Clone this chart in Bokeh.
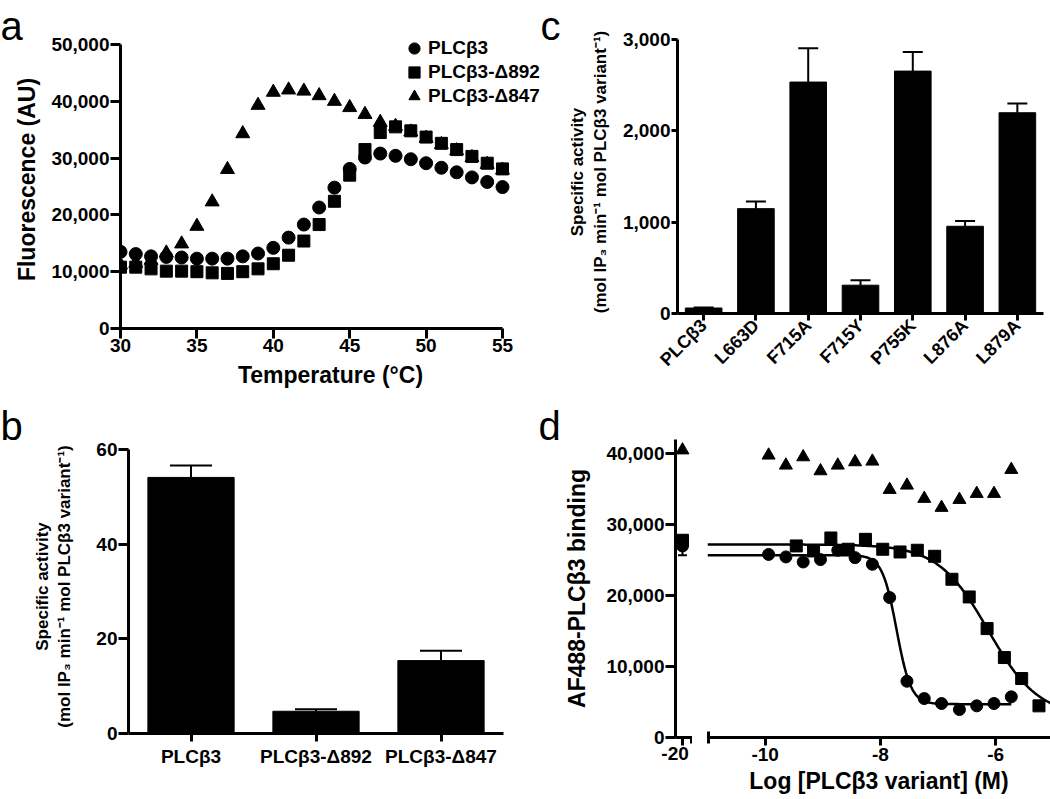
import math
from bokeh.plotting import figure
from bokeh.models import (FactorRange, Range1d, FixedTicker, NumeralTickFormatter,
                          Legend, LegendItem, Title)
from bokeh.layouts import column, row
from bokeh.embed import file_html
from bokeh.resources import INLINE

FONT = "Liberation Sans"

# ---------------- Panel a data ----------------
temp_c = list(range(30, 56))
fluor_wt = [13500, 13100, 12700, 12600, 12500, 12300, 12300, 12300, 12700, 13200,
            14200, 16000, 18300, 21300, 24800, 28100, 30100, 30800, 30400, 29800,
            29100, 28300, 27500, 26600, 25800, 24900]
fluor_d892 = [10800, 10800, 10500, 10100, 10100, 10000, 9800, 9700, 10000, 10500,
              11400, 12900, 15400, 18300, 22400, 27000, 31500, 34500, 35500, 34800,
              33700, 32600, 31500, 30300, 29100, 28100]
fluor_d847 = [11200, 11500, 12000, 13300, 14900, 18000, 22300, 28000, 34300, 39300,
              41600, 42000, 41800, 41000, 40000, 38900, 37700, 36300, 35600, 34600,
              33500, 32400, 31300, 30100, 28900, 27900]
series_names = ["PLCβ3", "PLCβ3-Δ892", "PLCβ3-Δ847"]

# ---------------- Panel b data ----------------
b_cats = ["PLCβ3", "PLCβ3-Δ892", "PLCβ3-Δ847"]
b_vals = [54.1, 4.7, 15.4]
b_err_top = [56.6, 5.1, 17.5]

# ---------------- Panel c data ----------------
c_cats = ["PLCβ3", "L663D", "F715A", "F715Y", "P755K", "L876A", "L879A"]
c_vals = [60, 1148, 2534, 310, 2654, 955, 2198]
c_err_top = [65, 1225, 2905, 365, 2862, 1013, 2300]

# ---------------- Panel d data ----------------
d_zero_x = -20
d_zero_wt = 27000
d_zero_wt_low = 25700
d_zero_wt_high = 28200
d_zero_d892 = 27800
d_zero_d847 = 40500

d_x_wt = [-9.94, -9.64, -9.34, -9.04, -8.74, -8.44, -8.14, -7.84, -7.54, -7.24,
          -6.94, -6.63, -6.33, -6.03, -5.73]
d_y_wt = [25800, 25450, 24740, 25070, 26390, 25350, 24410, 19720, 7930, 5490,
          4790, 3940, 4460, 4790, 5730]
d_x_d892 = [-9.46, -9.16, -8.86, -8.56, -8.26, -7.96, -7.66, -7.36, -7.06, -6.76,
            -6.46, -6.15, -5.85, -5.55, -5.25]
d_y_d892 = [27000, 26290, 28120, 26530, 27930, 26530, 26150, 26390, 25540, 22300,
            19810, 15350, 11270, 8310, 4460]
d_x_d847 = d_x_wt
d_y_d847 = [39770, 38360, 39530, 37560, 38360, 38830, 38920, 34930, 35540, 33670,
            32400, 33520, 34370, 34370, 37750]

# fitted dose-response parameters (top, bottom, logIC50, hill, x_start, x_end)
fit_wt = (25700, 4700, -7.72, 3.5, -11.0, -5.73)
fit_d892 = (27200, 3000, -6.13, 1.0, -11.0, -5.05)


def curve(params, n=200):
    top, bottom, lic, hill, x0, x1 = params
    xs = [x0 + (x1 - x0) * i / (n - 1) for i in range(n)]
    ys = [bottom + (top - bottom) / (1 + 10 ** ((x - lic) * hill)) for x in xs]
    return xs, ys


def style(p, tick_out=10, label_standoff=1):
    p.grid.visible = False
    p.outline_line_color = None
    p.background_fill_color = "white"
    for ax in p.axis:
        ax.axis_line_width = 3
        ax.axis_line_color = "black"
        ax.major_tick_line_width = 3
        ax.major_tick_line_color = "black"
        ax.major_tick_out = tick_out
        ax.major_tick_in = 0
        ax.minor_tick_line_color = None
        ax.major_label_text_font = FONT
        ax.major_label_text_font_style = "bold"
        ax.major_label_text_font_size = "19px"
        ax.major_label_text_color = "black"
        ax.major_label_standoff = label_standoff
        ax.axis_label_text_font = FONT
        ax.axis_label_text_font_style = "bold"
        ax.axis_label_text_font_size = "23px"
        ax.axis_label_text_color = "black"


def letter(p, text, offset, standoff):
    p.add_layout(Title(text=text, align="left", offset=offset, vertical_align="top",
                       standoff=standoff, text_font=FONT, text_font_size="40px",
                       text_font_style="normal", text_color="black"), "above")


TOP1 = 30      # common top border of row 1
TOP2 = 39      # common top border of row 2
B1 = 72        # bottom border row 1
B2 = 60        # bottom border row 2

# ================= Panel a =================
PA_W = 540
pa_y_top = 50000 + (44 - TOP1) * 50000 / 284
pa_x_end = 30 + (PA_W - 120) * 25 / 382
pa = figure(width=PA_W, height=400, x_range=Range1d(30, pa_x_end), y_range=Range1d(0, pa_y_top),
            output_backend="svg", toolbar_location=None,
            min_border_left=120, min_border_right=0, min_border_top=TOP1, min_border_bottom=B1)
r3 = pa.scatter(temp_c, fluor_d847, marker="triangle", size=14, color="black")
r2 = pa.scatter(temp_c, fluor_d892, marker="square", size=12, color="black")
r1 = pa.scatter(temp_c, fluor_wt, marker="circle", size=13, color="black")
style(pa)
pa.xaxis.bounds = (30, 55)
pa.yaxis.bounds = (0, 50000)
pa.xaxis.ticker = FixedTicker(ticks=[30, 35, 40, 45, 50, 55])
pa.yaxis.ticker = FixedTicker(ticks=[0, 10000, 20000, 30000, 40000, 50000])
pa.yaxis.formatter = NumeralTickFormatter(format="0,0")
pa.xaxis.axis_label = "Temperature (°C)"
pa.yaxis.axis_label = "Fluorescence (AU)"
pa.xaxis.major_label_standoff = 0
pa.xaxis.axis_label_standoff = 7
pa.yaxis.axis_label_standoff = 8
for name, rend, ypos in zip(series_names, [r1, r2, r3], [266, 242, 218]):
    pa.add_layout(Legend(items=[LegendItem(label=name, renderers=[rend])],
                         location=(280, ypos), border_line_color=None, background_fill_alpha=0,
                         label_text_font=FONT, label_text_font_style="bold",
                         label_text_font_size="19px", label_text_color="black",
                         glyph_width=28, glyph_height=28, label_height=20, spacing=0,
                         padding=0, margin=0, label_standoff=0), "center")
letter(pa, "a", -120, -38)

# ================= Panel c =================
PC_W = 1050 - PA_W
pc_y_top = 3000 + (39 - TOP1) * 3000 / 274
pc = figure(width=PC_W, height=385, x_range=FactorRange(*c_cats), y_range=Range1d(0, pc_y_top),
            output_backend="svg", toolbar_location=None,
            min_border_left=677 - PA_W, min_border_right=7, min_border_top=TOP1,
            min_border_bottom=B1)
pc.vbar(x=c_cats, top=c_vals, width=0.7, color="black")
pc.segment(x0=c_cats, y0=c_vals, x1=c_cats, y1=c_err_top, line_width=2, color="black")
pc.scatter(c_cats, c_err_top, marker="dash", size=20, line_width=2, color="black")
style(pc, tick_out=6)
pc.yaxis.bounds = (0, 3000)
pc.yaxis.ticker = FixedTicker(ticks=[0, 1000, 2000, 3000])
pc.yaxis.formatter = NumeralTickFormatter(format="0,0")
pc.xaxis.major_tick_out = 7
pc.xaxis.major_label_orientation = math.pi / 4
pc.xaxis.major_label_text_font_size = "18px"
pc.xaxis.major_label_standoff = 2
pc.yaxis.axis_label = "Specific activity\n(mol IP₃ min⁻¹ mol PLCβ3 variant⁻¹)"
pc.yaxis.axis_label_text_font_size = "17px"
pc.yaxis.axis_label_standoff = 10
letter(pc, "c", -(677 - PA_W), -38)

# ================= Panel b =================
pb_y_top = 60 + (449 - 400 - TOP2) * 60 / 284
pb = figure(width=525, height=393, x_range=FactorRange(*b_cats), y_range=Range1d(0, pb_y_top),
            output_backend="svg", toolbar_location=None,
            min_border_left=128, min_border_right=22, min_border_top=TOP2, min_border_bottom=B2)
pb.vbar(x=b_cats, top=b_vals, width=0.69, color="black")
pb.segment(x0=b_cats, y0=b_vals, x1=b_cats, y1=b_err_top, line_width=2, color="black")
pb.scatter(b_cats, b_err_top, marker="dash", size=42, line_width=2, color="black")
style(pb)
pb.yaxis.bounds = (0, 60)
pb.yaxis.ticker = FixedTicker(ticks=[0, 20, 40, 60])
pb.xaxis.major_tick_out = 8
pb.xaxis.major_label_standoff = 4
pb.yaxis.axis_label = "Specific activity\n(mol IP₃ min⁻¹ mol PLCβ3 variant⁻¹)"
pb.yaxis.axis_label_text_font_size = "17px"
pb.yaxis.axis_label_standoff = 19
letter(pb, "b", -128, -21)

# ================= Panel d =================
yr = Range1d(0, 42000)
pd1 = figure(width=167, height=397, x_range=Range1d(-20.41, -19.41), y_range=yr,
             output_backend="svg", toolbar_location=None,
             min_border_left=150, min_border_right=0, min_border_top=TOP2, min_border_bottom=B2)
pd1.segment(x0=[d_zero_x], y0=[d_zero_wt_low], x1=[d_zero_x], y1=[d_zero_wt_high],
            line_width=2, color="black")
pd1.scatter([d_zero_x], [d_zero_wt_low], marker="dash", size=9, line_width=2, color="black")
pd1.scatter([d_zero_x], [d_zero_d847], marker="triangle", size=13, color="black")
pd1.scatter([d_zero_x], [d_zero_d892], marker="square", size=12, color="black")
pd1.scatter([d_zero_x], [d_zero_wt], marker="circle", size=12, color="black")
style(pd1)
pd1.xaxis.ticker = FixedTicker(ticks=[-20], minor_ticks=[-19.45])
pd1.xaxis.major_label_overrides = {-20: "-20"}
pd1.xaxis.minor_tick_line_color = "black"
pd1.xaxis.minor_tick_line_width = 3
pd1.xaxis.minor_tick_out = 6
pd1.xaxis.minor_tick_in = 0
pd1.xaxis.major_tick_out = 8
pd1.xaxis.major_label_standoff = 1
pd1.yaxis.ticker = FixedTicker(ticks=[0, 10000, 20000, 30000, 40000])
pd1.yaxis.formatter = NumeralTickFormatter(format="0,0")
pd1.yaxis.axis_label = "AF488-PLCβ3 binding"
pd1.yaxis.axis_label_standoff = 13
letter(pd1, "d", -137, -21)

pd2 = figure(width=358, height=397, x_range=Range1d(-11.0, -5.05), y_range=yr,
             output_backend="svg", toolbar_location=None, y_axis_location=None,
             min_border_left=15, min_border_right=0, min_border_top=TOP2, min_border_bottom=B2)
cx, cy = curve(fit_wt)
pd2.line(cx, cy, line_width=2.5, color="black")
cx2, cy2 = curve(fit_d892)
pd2.line(cx2, cy2, line_width=2.5, color="black")
pd2.scatter(d_x_d847, d_y_d847, marker="triangle", size=13, color="black")
pd2.scatter(d_x_d892, d_y_d892, marker="square", size=12, color="black")
pd2.scatter(d_x_wt, d_y_wt, marker="circle", size=12, color="black")
style(pd2)
pd2.xaxis.ticker = FixedTicker(ticks=[-10, -8, -6], minor_ticks=[-10.98])
pd2.xaxis.major_label_overrides = {-10: "-10", -8: "-8", -6: "-6"}
pd2.xaxis.minor_tick_line_color = "black"
pd2.xaxis.minor_tick_line_width = 3
pd2.xaxis.minor_tick_out = 6
pd2.xaxis.minor_tick_in = 6
pd2.xaxis.major_tick_out = 8
pd2.xaxis.major_label_standoff = 2
pd2.xaxis.axis_label = "Log [PLCβ3 variant] (M)"
pd2.xaxis.axis_label_standoff = 4

layout = column(row(pa, pc), row(pb, pd1, pd2))
open("out.html", "w").write(file_html(layout, INLINE))
